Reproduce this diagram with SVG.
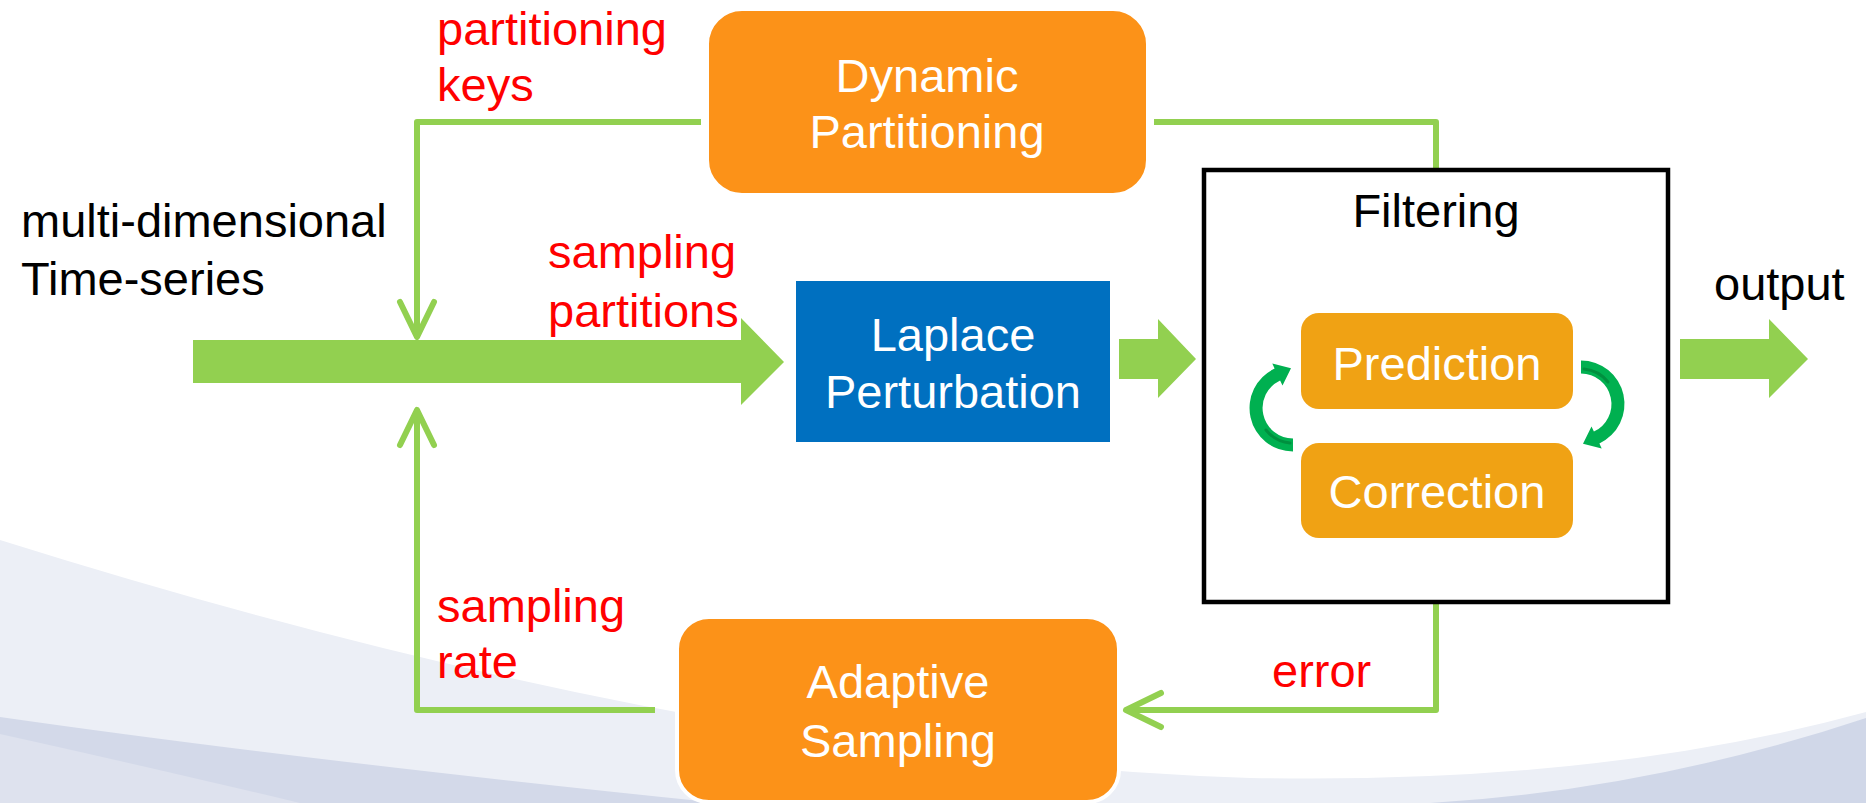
<svg xmlns="http://www.w3.org/2000/svg" width="1866" height="803" viewBox="0 0 1866 803">
<defs>
<style>
text{font-family:"Liberation Sans",Arial,sans-serif;font-size:47px}
.lbl{fill:#FF0000}
.blk{fill:#000000}
.wht{fill:#FFFFFF;text-anchor:middle}
.mid{text-anchor:middle}
.conn{fill:none;stroke:#92D050;stroke-width:6;stroke-linecap:butt;stroke-linejoin:round}
.fat{fill:#92D050}
.orange{fill:#FC9218;stroke:#FFFFFF;stroke-width:4}
.step{fill:#F0A214}
.loop{fill:#00B050}
.shade{fill:none;stroke:#00903F;stroke-width:3;stroke-linecap:round}
</style>
<marker id="chev" markerUnits="userSpaceOnUse" viewBox="-44 -24 52 48" markerWidth="52" markerHeight="48" refX="0" refY="0" orient="auto" overflow="visible">
<path d="M-36,-17 L-1,0 L-36,17" fill="none" stroke="#92D050" stroke-width="6" stroke-linecap="round" stroke-linejoin="round"/>
</marker>
</defs>
<g id="background">
<rect x="0" y="0" width="1866" height="803" fill="#FFFFFF"/>
<path d="M0,540 Q700,760 1250,778 Q1600,785 1866,712 L1866,803 L0,803 Z" fill="#ECEFF6"/>
<path d="M0,717 Q300,760 720,803 L0,803 Z" fill="#D3D9E9"/>
<path d="M0,734 Q140,765 300,803 L0,803 Z" fill="#DEE2EE"/>
<path d="M1430,803 Q1650,790 1866,718 L1866,803 Z" fill="#D0D7E8"/>
</g>
<g id="connectors">
<path class="conn" d="M701,122 H417 V338" marker-end="url(#chev)"/>
<path class="conn" d="M655,710 H417 V409" marker-end="url(#chev)"/>
<path class="conn" d="M1154,122 H1436 V170"/>
<path class="conn" d="M1436,602 V710 H1125" marker-end="url(#chev)"/>
<path id="arrow-input" class="fat" d="M193,340 H741 V318 L784,362 L741,405 V383 H193 Z"/>
<path id="arrow-laplace-filter" class="fat" d="M1119,339 H1158 V319 L1196,359 L1158,398 V379 H1119 Z"/>
<path id="arrow-output" class="fat" d="M1680,339 H1769 V319 L1808,359 L1769,398 V379 H1680 Z"/>
</g>
<g id="labels">
<text class="lbl" x="437" y="45">partitioning</text>
<text class="lbl" x="437" y="101">keys</text>
<text class="lbl" x="548" y="268">sampling</text>
<text class="lbl" x="548" y="327">partitions</text>
<text class="lbl" x="437" y="622">sampling</text>
<text class="lbl" x="437" y="678">rate</text>
<text class="lbl" x="1272" y="687">error</text>
<text class="blk" x="21" y="237">multi-dimensional</text>
<text class="blk" x="21" y="295">Time-series</text>
<text class="blk" x="1714" y="300">output</text>
</g>
<g id="dynamic-partitioning">
<rect class="orange" x="707" y="9" width="441" height="186" rx="35"/>
<text class="wht" x="927" y="92">Dynamic</text>
<text class="wht" x="927" y="148">Partitioning</text>
</g>
<g id="laplace-perturbation">
<rect x="796" y="281" width="314" height="161" fill="#0070C0"/>
<text class="wht" x="953" y="351">Laplace</text>
<text class="wht" x="953" y="408">Perturbation</text>
</g>
<g id="filtering">
<rect x="1204" y="170" width="464" height="432" fill="#FFFFFF" stroke="#000000" stroke-width="4.5"/>
<text class="blk mid" x="1436" y="227">Filtering</text>
</g>
<g id="prediction">
<rect class="step" x="1301" y="313" width="272" height="96" rx="18"/>
<text class="wht" x="1437" y="380">Prediction</text>
</g>
<g id="correction">
<rect class="step" x="1301" y="443" width="272" height="95" rx="18"/>
<text class="wht" x="1437" y="508">Correction</text>
</g>
<g id="loop-arrows">
<g id="loop-left">
<path class="loop" d="M1293,451.5 A43.5,43.5 0 0 1 1274.6,368.6 L1272.3,363.6 L1291,368.2 L1282.5,385.4 L1280.1,380.4 A30.5,30.5 0 0 0 1293,438.5 Z"/>
<path class="shade" d="M1290,443 A35,35 0 0 1 1266,430"/>
</g>
<g id="loop-right" transform="rotate(180 1437 406)">
<path class="loop" d="M1293,451.5 A43.5,43.5 0 0 1 1274.6,368.6 L1272.3,363.6 L1291,368.2 L1282.5,385.4 L1280.1,380.4 A30.5,30.5 0 0 0 1293,438.5 Z"/>
<path class="shade" d="M1290,443 A35,35 0 0 1 1266,430"/>
</g>
</g>
<g id="adaptive-sampling">
<rect class="orange" x="677" y="617" width="442" height="185" rx="32"/>
<text class="wht" x="898" y="698">Adaptive</text>
<text class="wht" x="898" y="757">Sampling</text>
</g>
</svg>
